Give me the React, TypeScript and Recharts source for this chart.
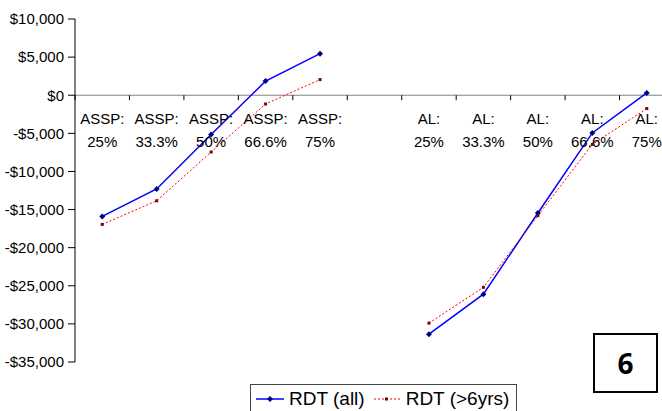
import React from 'react';
import { LineChart, Line, XAxis, YAxis, ReferenceLine, ReferenceDot, Legend } from 'recharts';

const groups = ['ASSP:', 'ASSP:', 'ASSP:', 'ASSP:', 'ASSP:', '', 'AL:', 'AL:', 'AL:', 'AL:', 'AL:'];
const levels = ['25%', '33.3%', '50%', '66.6%', '75%', '', '25%', '33.3%', '50%', '66.6%', '75%'];
const rdtAll: (number | null)[] = [-15900, -12300, -5150, 1850, 5450, null, -31350, -26100, -15450, -4950, 300];
const rdtOld: (number | null)[] = [-16950, -13850, -7450, -1150, 2050, null, -29900, -25200, -15800, -6450, -1750];
const yTicks = [10000, 5000, 0, -5000, -10000, -15000, -20000, -25000, -30000, -35000];
const boundaries = [0, 1, 2, 3, 4, 5, 6, 7, 8, 9, 10, 11];

const data = groups.map((g, i) => ({
  x: i + 0.5,
  group: g,
  level: levels[i],
  all: rdtAll[i],
  old: rdtOld[i],
}));

const FONT = '"Liberation Sans", Arial, sans-serif';

const fmt = (v: number) => {
  const s = '$' + Math.abs(v).toLocaleString('en-US');
  return v < 0 ? '-' + s : s;
};

const BlueDot = (props: any) => {
  const { cx, cy, index } = props;
  if (cx == null || cy == null) return <g key={`b${index}`} />;
  const r = 3;
  return <path key={`b${index}`} d={`M${cx},${cy - r}L${cx + r},${cy}L${cx},${cy + r}L${cx - r},${cy}Z`} fill="#000080" />;
};

const RedDot = (props: any) => {
  const { cx, cy, index } = props;
  if (cx == null || cy == null) return <g key={`r${index}`} />;
  return <rect key={`r${index}`} x={cx - 1.5} y={cy - 1.5} width={3} height={3} fill="#800000" />;
};

const TickMark = (props: any) => {
  const { x1, y1 } = props;
  if (x1 == null || y1 == null) return <g />;
  return <line x1={x1} y1={y1} x2={x1} y2={y1 + 5} stroke="#000" strokeWidth={1} />;
};

const makeLabel = (g: string, l: string) => (props: any) => {
  const { cx, cy } = props;
  return (
    <g>
      <text x={cx} y={cy + 29} textAnchor="middle" fontSize={15} fill="#000" fontFamily={FONT}>{g}</text>
      <text x={cx} y={cy + 52} textAnchor="middle" fontSize={15} fill="#000" fontFamily={FONT}>{l}</text>
    </g>
  );
};

const LegendBox = () => (
  <div
    style={{
      display: 'flex',
      alignItems: 'center',
      border: '1px solid #444',
      background: '#fff',
      width: 267,
      height: 30,
      boxSizing: 'border-box',
      fontFamily: FONT,
      fontSize: 19,
      color: '#000',
      paddingLeft: 5,
      whiteSpace: 'nowrap',
    }}
  >
    <svg width={28} height={10} style={{ display: 'block' }}>
      <line x1={0} y1={5} x2={28} y2={5} stroke="#0000FF" strokeWidth={1.5} />
      <path d="M14,2L17,5L14,8L11,5Z" fill="#000080" />
    </svg>
    <span style={{ marginLeft: 5 }}>RDT (all)</span>
    <svg width={27} height={10} style={{ display: 'block', marginLeft: 9 }}>
      <line x1={0} y1={5} x2={27} y2={5} stroke="#FF0000" strokeWidth={1} strokeDasharray="2 2" />
      <rect x={11} y={3.5} width={3} height={3} fill="#800000" />
    </svg>
    <span style={{ marginLeft: 5 }}>RDT (&gt;6yrs)</span>
  </div>
);

export default function App() {
  return (
    <div style={{ position: 'absolute', left: 0, top: 0, width: 662, height: 411, overflow: 'hidden', background: '#fff' }}>
      <LineChart
        width={700}
        height={411}
        data={data}
        margin={{ top: 19, right: 26, bottom: 49, left: 0 }}
        style={{ fontFamily: FONT }}
      >
        <XAxis dataKey="x" type="number" domain={[0, 11]} ticks={boundaries} hide />
        <YAxis
          type="number"
          domain={[-35000, 10000]}
          ticks={yTicks}
          interval={0}
          width={75}
          tickFormatter={fmt}
          tick={{ fontSize: 15, fill: '#000', fontFamily: FONT }}
          tickSize={7}
          tickMargin={4}
          axisLine={{ stroke: '#000' }}
          tickLine={{ stroke: '#000' }}
        />
        <ReferenceLine y={0} stroke="#808080" strokeWidth={1} />
        {boundaries.map((b) => (
          <ReferenceLine
            key={`t${b}`}
            segment={[{ x: b, y: 0 }, { x: b, y: 0 }]}
            shape={TickMark}
            ifOverflow="visible"
          />
        ))}
        {data.map((d, i) =>
          d.group ? (
            <ReferenceDot key={`l${i}`} x={d.x} y={0} r={0} shape={makeLabel(d.group, d.level)} ifOverflow="visible" />
          ) : null
        )}
        <Line
          dataKey="all"
          name="RDT (all)"
          stroke="#0000FF"
          strokeWidth={1.5}
          dot={BlueDot}
          activeDot={false}
          connectNulls={false}
          isAnimationActive={false}
        />
        <Line
          dataKey="old"
          name="RDT (>6yrs)"
          stroke="#FF0000"
          strokeWidth={1}
          strokeDasharray="2 2"
          dot={RedDot}
          activeDot={false}
          connectNulls={false}
          isAnimationActive={false}
        />
        <Legend
          layout="horizontal"
          verticalAlign="middle"
          align="center"
          content={() => <LegendBox />}
          wrapperStyle={{ top: 384, left: 250, width: 'auto', height: 'auto' }}
        />
      </LineChart>
      <div
        style={{
          position: 'absolute',
          left: 593,
          top: 333,
          width: 65,
          height: 60,
          boxSizing: 'border-box',
          border: '2px solid #000',
          background: '#fff',
          display: 'flex',
          alignItems: 'center',
          justifyContent: 'center',
          fontFamily: '"Open Sans", "Noto Sans", sans-serif',
          fontWeight: 700,
          fontSize: 28,
          color: '#000',
        }}
      >
        6
      </div>
    </div>
  );
}
